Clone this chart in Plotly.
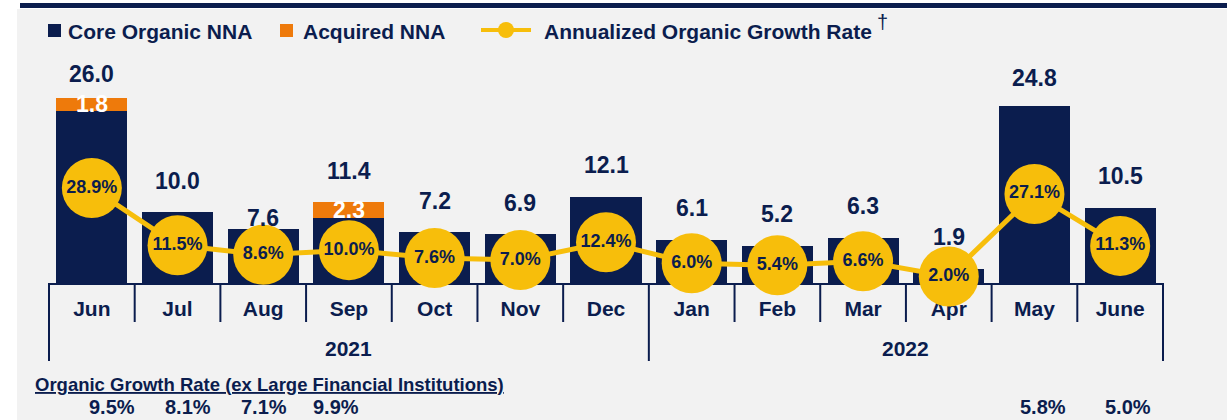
import plotly.graph_objects as go

# ---------------- data ----------------
months = ["Jun", "Jul", "Aug", "Sep", "Oct", "Nov", "Dec", "Jan", "Feb", "Mar", "Apr", "May", "June"]
years = ["2021", "2022"]
months_per_year = [7, 6]
core_nna = [24.2, 10.0, 7.6, 9.1, 7.2, 6.9, 12.1, 6.1, 5.2, 6.3, 1.9, 24.8, 10.5]
acquired_nna = [1.8, None, None, 2.3, None, None, None, None, None, None, None, None, None]
total_nna = [26.0, 10.0, 7.6, 11.4, 7.2, 6.9, 12.1, 6.1, 5.2, 6.3, 1.9, 24.8, 10.5]
growth_rate = [28.9, 11.5, 8.6, 10.0, 7.6, 7.0, 12.4, 6.0, 5.4, 6.6, 2.0, 27.1, 11.3]
ex_lfi_rate = [9.5, 8.1, 7.1, 9.9, None, None, None, None, None, None, None, 5.8, 5.0]

# ---------------- style ----------------
NAVY = "#0B1D4E"
ORANGE = "#EE7A0B"
YELLOW = "#F7BE0B"
BG = "#F2F2F2"
FONT = "Liberation Sans, Arial, sans-serif"

W, H = 1227, 420
L, R, T, B = 49, 64, 40, 137
PW, PH = W - L - R, H - T - B

label_lift = [24, 31, 11, 31, 31, 31, 32, 32, 32, 32, 32, 28, 32]   # px above bar top
ex_lfi_shift = [20, 10, 1, -13, 0, 0, 0, 0, 0, 0, 0, 9, 8]          # px horizontal nudge


def px_x(px):
    return (px - L) / PW


def px_y(py):
    return (H - B - py) / PH


def f(size, color=NAVY, bold=True):
    d = dict(family=FONT, size=size, color=color)
    if bold:
        d["weight"] = "bold"
    return d


fig = go.Figure()

fig.add_trace(go.Bar(
    x=months, y=core_nna, name="Core Organic NNA",
    marker=dict(color=NAVY, line=dict(width=0)), showlegend=False,
))
fig.add_trace(go.Bar(
    x=months, y=acquired_nna, name="Acquired NNA",
    marker=dict(color=ORANGE, line=dict(width=0)), showlegend=False,
))
fig.add_trace(go.Scatter(
    x=months, y=growth_rate, yaxis="y2", name="Annualized Organic Growth Rate",
    mode="lines+markers+text",
    line=dict(color=YELLOW, width=5),
    marker=dict(size=60, color=YELLOW, line=dict(width=0)),
    text=[f"{v:.1f}%" for v in growth_rate],
    textposition="middle center",
    textfont=f(18),
    cliponaxis=False, showlegend=False,
))

annotations = []
# total labels above bars
for m, tot, lift in zip(months, total_nna, label_lift):
    annotations.append(dict(x=m, y=tot, xref="x", yref="y", text=f"{tot:.1f}",
                            showarrow=False, yanchor="middle", yshift=lift, font=f(23)))
# acquired labels inside orange segments
for m, c, a in zip(months, core_nna, acquired_nna):
    if a is not None:
        annotations.append(dict(x=m, y=c + a / 2, xref="x", yref="y", text=f"{a:.1f}",
                                showarrow=False, yanchor="middle", font=f(23, "white")))
# year labels
start = 0
for yr, n in zip(years, months_per_year):
    annotations.append(dict(x=start + (n - 1) / 2, y=px_y(348), xref="x", yref="paper",
                            text=yr, showarrow=False, yanchor="middle", font=f(21)))
    start += n
# bottom heading and values
annotations.append(dict(x=px_x(33), y=px_y(384), xref="paper", yref="paper", xanchor="left",
                        yanchor="middle", showarrow=False, font=f(18.5),
                        text="<u>Organic Growth Rate (ex Large Financial Institutions)</u>"))
for m, v, s in zip(months, ex_lfi_rate, ex_lfi_shift):
    if v is not None:
        annotations.append(dict(x=m, y=px_y(407), xref="x", yref="paper", text=f"{v:.1f}%",
                                showarrow=False, yanchor="middle", xshift=s, font=f(20)))
# legend texts
annotations.append(dict(x=px_x(66), y=px_y(31.5), xref="paper", yref="paper", xanchor="left",
                        yanchor="middle", showarrow=False, text="Core Organic NNA", font=f(21)))
annotations.append(dict(x=px_x(301), y=px_y(31.5), xref="paper", yref="paper", xanchor="left",
                        yanchor="middle", showarrow=False, text="Acquired NNA", font=f(21)))
annotations.append(dict(x=px_x(542), y=px_y(31.5), xref="paper", yref="paper", xanchor="left",
                        yanchor="middle", showarrow=False,
                        text="Annualized Organic Growth Rate", font=f(21)))
annotations.append(dict(x=px_x(882), y=px_y(22), xref="paper", yref="paper", xanchor="center",
                        yanchor="middle", showarrow=False, text="†", font=f(20, bold=False)))

shapes = []
# gray panel and top band
shapes.append(dict(type="rect", xref="paper", yref="paper", x0=px_x(17), x1=px_x(W),
                   y0=px_y(H), y1=px_y(9), fillcolor=BG, line=dict(width=0), layer="below"))
shapes.append(dict(type="rect", xref="paper", yref="paper", x0=px_x(20), x1=px_x(W),
                   y0=px_y(8), y1=px_y(3), fillcolor=NAVY, line=dict(width=0), layer="below"))
# category dividers
n = len(months)
year_bounds = [0]
for k in months_per_year:
    year_bounds.append(year_bounds[-1] + k)
for k in range(n + 1):
    bottom = px_y(361) if k in year_bounds else px_y(322)
    shapes.append(dict(type="line", xref="paper", yref="paper", x0=k / n, x1=k / n,
                       y0=0, y1=bottom, line=dict(color=NAVY, width=2), layer="below"))
# legend symbols
shapes.append(dict(type="rect", xref="paper", yref="paper", x0=px_x(48), x1=px_x(61),
                   y0=px_y(37), y1=px_y(24), fillcolor=NAVY, line=dict(width=0)))
shapes.append(dict(type="rect", xref="paper", yref="paper", x0=px_x(280), x1=px_x(293),
                   y0=px_y(37), y1=px_y(24), fillcolor=ORANGE, line=dict(width=0)))
shapes.append(dict(type="line", xref="paper", yref="paper", x0=px_x(481), x1=px_x(531),
                   y0=px_y(30), y1=px_y(30), line=dict(color=YELLOW, width=4)))
shapes.append(dict(type="circle", xref="paper", yref="paper", x0=px_x(498), x1=px_x(514),
                   y0=px_y(38), y1=px_y(22), fillcolor=YELLOW, line=dict(width=0)))

fig.update_layout(
    width=W, height=H,
    margin=dict(l=L, r=R, t=T, b=B, pad=0),
    paper_bgcolor="white", plot_bgcolor="rgba(0,0,0,0)",
    barmode="stack", bargap=0.17,
    showlegend=False,
    font=dict(family=FONT, color=NAVY),
    xaxis=dict(type="category", categoryorder="array", categoryarray=months,
               range=[-0.5, n - 0.5], showgrid=False, zeroline=False,
               showline=True, linecolor=NAVY, linewidth=2, layer="below traces",
               ticks="", tickfont=f(21), ticklabelstandoff=6, fixedrange=True),
    yaxis=dict(range=[0, PH / 7.12], visible=False, showgrid=False, zeroline=False,
               fixedrange=True),
    yaxis2=dict(range=[0, PH / 3.285], overlaying="y", visible=False,
                showgrid=False, zeroline=False, fixedrange=True),
    annotations=annotations,
    shapes=shapes,
)

fig.write_html(
    "out.html",
    config={"displayModeBar": False},
    post_script="document.body.style.margin='0px';document.body.style.overflow='hidden';",
)
